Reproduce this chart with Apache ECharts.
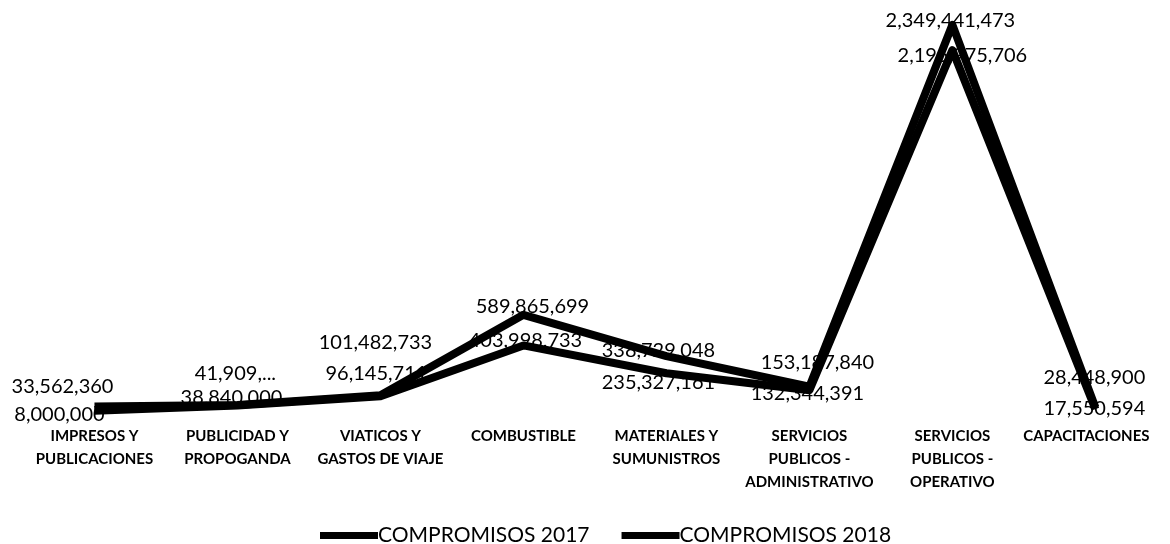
<!DOCTYPE html>
<html>
<head>
<meta charset="utf-8">
<script src="https://cdn.jsdelivr.net/npm/echarts@6/dist/echarts.min.js"></script>
<style>
html,body{margin:0;padding:0;background:#fff;}
#chart{width:1170px;height:544px;}
</style>
</head>
<body>
<div id="chart"></div>
<script>
var categories = [
  'IMPRESOS Y\nPUBLICACIONES',
  'PUBLICIDAD Y\nPROPOGANDA',
  'VIATICOS Y\nGASTOS DE VIAJE',
  'COMBUSTIBLE',
  'MATERIALES Y\nSUMUNISTROS',
  'SERVICIOS\nPUBLICOS -\nADMINISTRATIVO',
  'SERVICIOS\nPUBLICOS -\nOPERATIVO',
  'CAPACITACIONES'
];
var seriesNames = ['COMPROMISOS 2017', 'COMPROMISOS 2018'];
var compromisos2017 = [33562360, 41909000, 101482733, 589865699, 338729048, 153187840, 2349441473, 28448900];
var compromisos2018 = [8000000, 38840000, 96145711, 403998733, 235327161, 132344391, 2195975706, 17550594];

// label placement (pixel offsets of label centres from their points)
var offsets2017 = [[-32,-20],[-2,-32],[-5,-53],[9,-8],[-8,-6],[8,-24],[-2,-4],[-1,-30]];
var offsets2018 = [[-35,4],[-6,-8],[-4,-23],[2,-5],[-8,9],[-2,3],[10,5],[-1,-1]];

function fmt(v){ return v.toString().replace(/\B(?=(\d{3})+(?!\d))/g, ','); }

function buildData(vals, offs, truncIdx){
  return vals.map(function(v, i){
    var lbl = {offset: offs[i]};
    if (i === truncIdx) {
      lbl.formatter = fmt(v).split(',').slice(0,2).join(',') + ',...';
    }
    return {value: v, label: lbl};
  });
}

var labelStyle = {
  show: true,
  position: 'inside',
  color: '#000',
  fontFamily: 'Lato',
  fontSize: 20,
  formatter: function(p){ return fmt(p.value); }
};

var chart = echarts.init(document.getElementById('chart'));
chart.setOption({
  animation: false,
  backgroundColor: '#fff',
  grid: {left: 23, top: 0, width: 1152, height: 412, containLabel: false},
  xAxis: {
    type: 'category',
    data: categories,
    boundaryGap: true,
    axisLine: {show: false},
    axisTick: {show: false},
    axisLabel: {
      interval: 0,
      margin: 13,
      color: '#000',
      fontFamily: 'Lato',
      fontWeight: 'bold',
      fontSize: 15,
      lineHeight: 23,
      formatter: function(v){
        if (v === 'CAPACITACIONES') return '{last|' + v + '}';
        return v;
      },
      rich: {
        last: {fontFamily: 'Lato', fontWeight: 'bold', fontSize: 15, color: '#000', padding: [0, 18, 0, 0]}
      }
    }
  },
  yAxis: {
    type: 'value',
    min: 0,
    max: 2500000000,
    show: false,
    splitLine: {show: false}
  },
  legend: {
    left: 315,
    top: 520,
    itemWidth: 58,
    itemHeight: 7,
    itemGap: 32,
    icon: 'rect',
    textStyle: {fontFamily: 'Lato', fontSize: 21, color: '#000', padding: [0, 0, 0, -5]},
    data: seriesNames
  },
  series: [
    {
      name: seriesNames[0],
      type: 'line',
      data: buildData(compromisos2017, offsets2017, 1),
      symbol: 'circle',
      symbolSize: 1,
      itemStyle: {color: '#000'},
      lineStyle: {color: '#000', width: 8, join: 'round'},
      label: labelStyle
    },
    {
      name: seriesNames[1],
      type: 'line',
      data: buildData(compromisos2018, offsets2018, -1),
      symbol: 'circle',
      symbolSize: 1,
      itemStyle: {color: '#000'},
      lineStyle: {color: '#000', width: 8, join: 'round'},
      label: labelStyle
    }
  ]
});
</script>
</body>
</html>
